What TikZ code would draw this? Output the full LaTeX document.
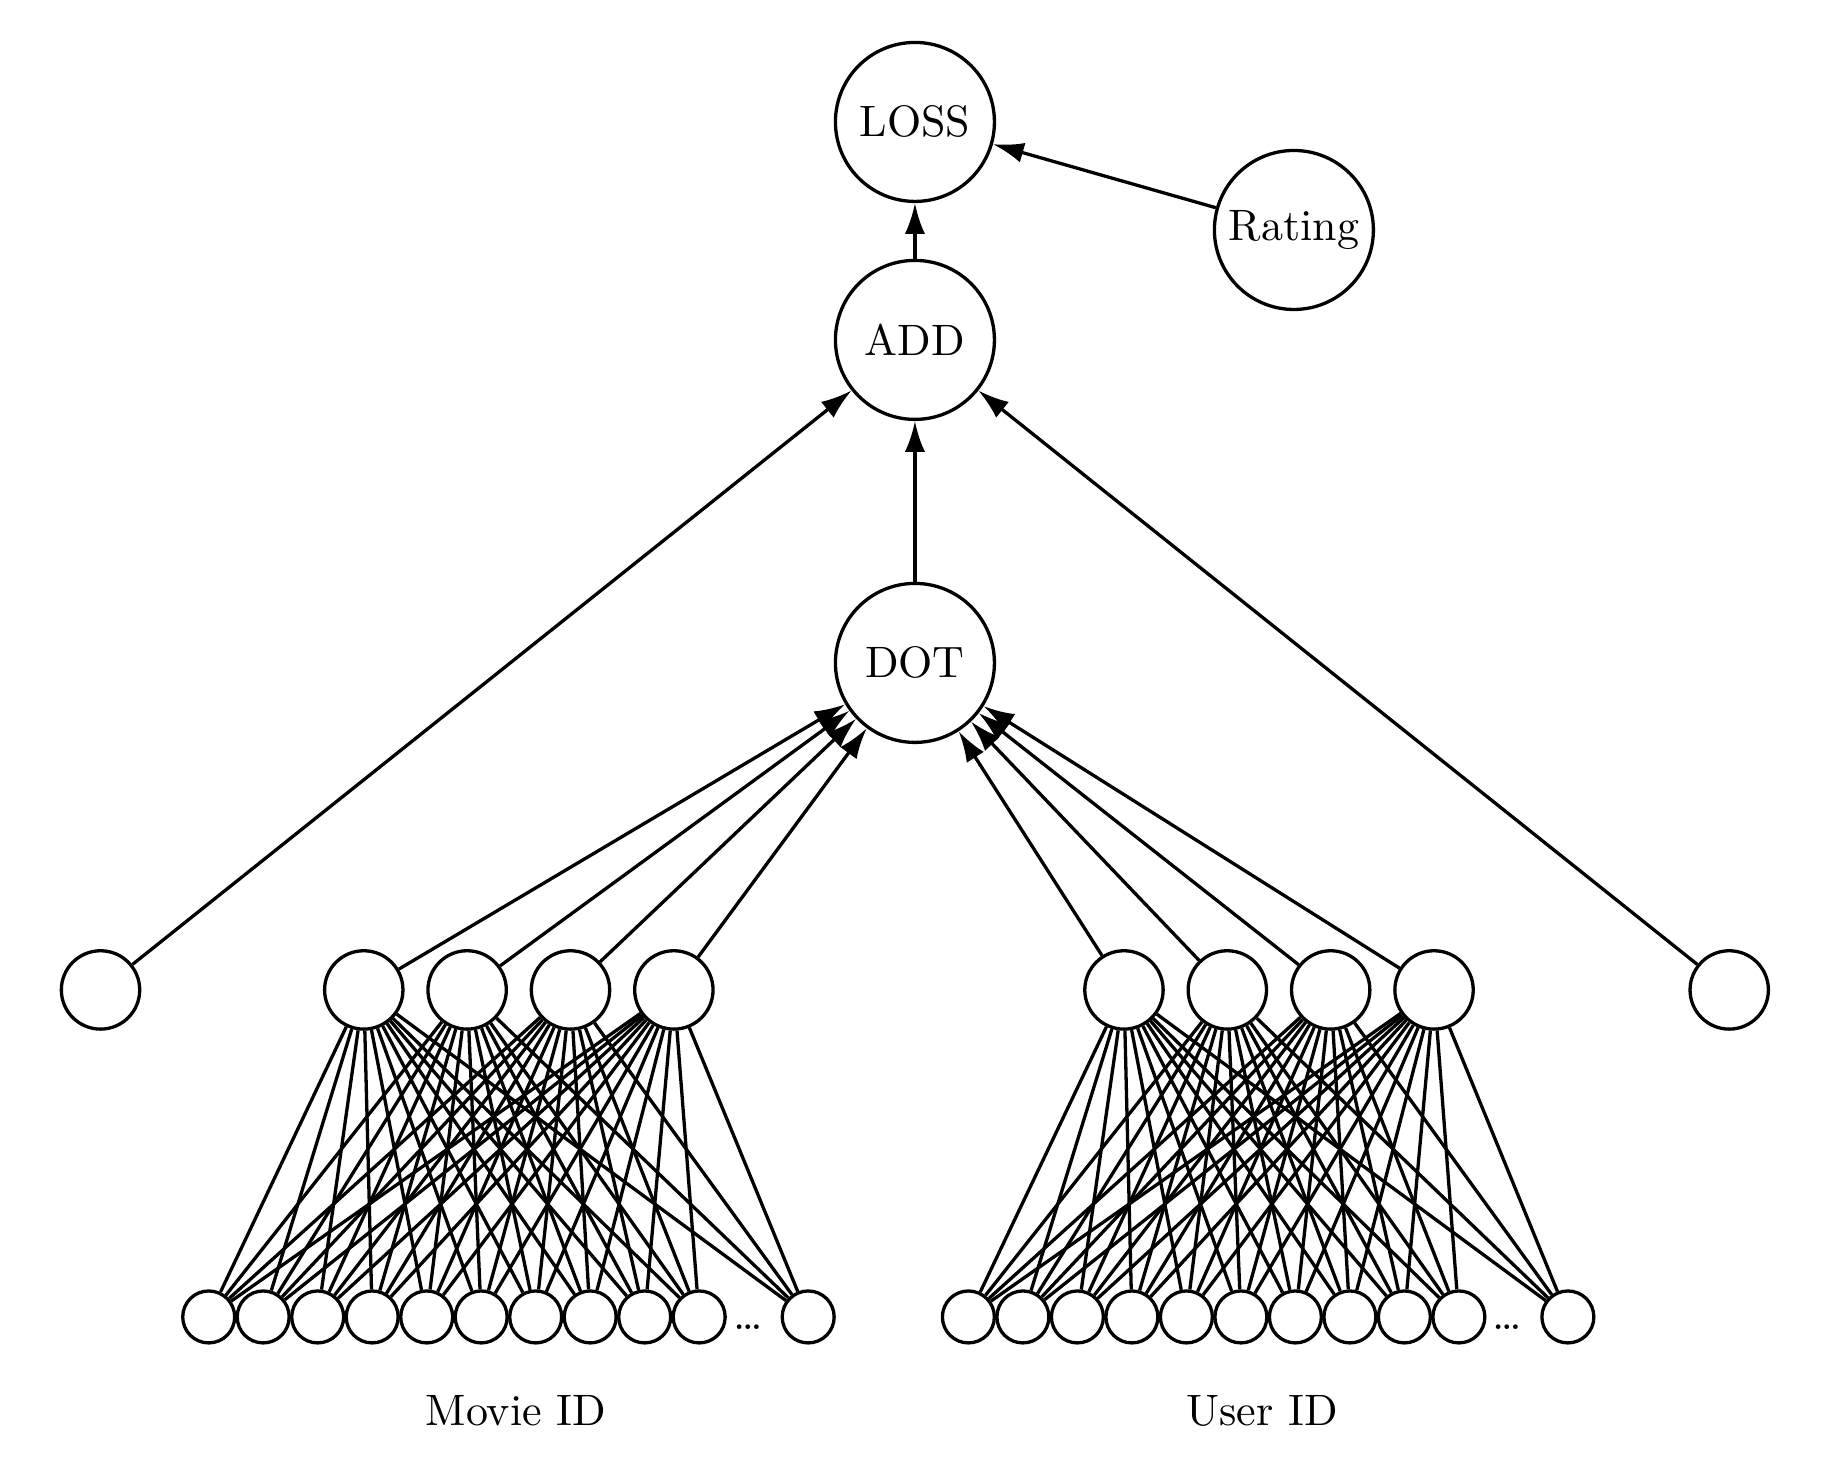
\documentclass[tikz,border=0pt]{standalone}
\usepackage{tikz}
\usetikzlibrary{arrows.meta,positioning}

\begin{document}
\begin{tikzpicture}[line width=0.75pt, >={Latex[length=7pt,width=4.6pt]},
		op/.style={circle, draw, minimum size=1.27cm, inner sep=0pt},
		hid/.style={circle, draw, minimum size=0.626cm, inner sep=0pt},
		inp/.style={circle, draw, minimum size=0.415cm, inner sep=0pt}]
			\useasboundingbox (0,0) rectangle (14.665,11.661);
			
			\node[op] (L) at (7.308,10.687) {LOSS};
			\node[op] (R) at (10.335,9.824) {Rating};
			\node[op] (A) at (7.308,8.946) {ADD};
			\node[op] (D) at (7.308,6.366) {DOT};
			\node[hid] (B) at (0.803,3.754) {};
			\node[hid] (C) at (13.812,3.754) {};
			
			% embedding units
			\foreach \i in {1,...,4} {
				\node[hid] (H\i) at ({2.080+0.8256*\i},3.754) {};
				\node[hid] (K\i) at ({8.152+0.8256*\i},3.754) {};
			}
			
			% one-hot inputs
			\foreach \k [count=\i] in {0,1,2,3,4,5,6,7,8,9,11} {
				\node[inp] (M\i) at ({1.667+0.4353*\k},1.142) {};
				\node[inp] (U\i) at ({7.735+0.4353*\k},1.142) {};
			}
			\node (Md) at (5.974,1.06) {\dots};
			\node (Ud) at (12.04,1.06) {\dots};
			\node (MI) at (4.12,0.39) {Movie ID};
			\node (UI) at (10.08,0.39) {User ID};
			
			\foreach \i in {1,...,11} {
				\foreach \j in {1,...,4} {
					\draw (M\i) -- (H\j);
					\draw (U\i) -- (K\j);
				}
			}
			
			\foreach \j in {1,...,4} {
				\path[->] (H\j) edge (D);
				\path[->] (K\j) edge (D);
			}
			\path[->] (B) edge (A);
			\path[->] (C) edge (A);
			\path[->] (D) edge (A);
			\path[->] (A) edge (L);
			\path[->] (R) edge (L);
		\end{tikzpicture}
\end{document}
